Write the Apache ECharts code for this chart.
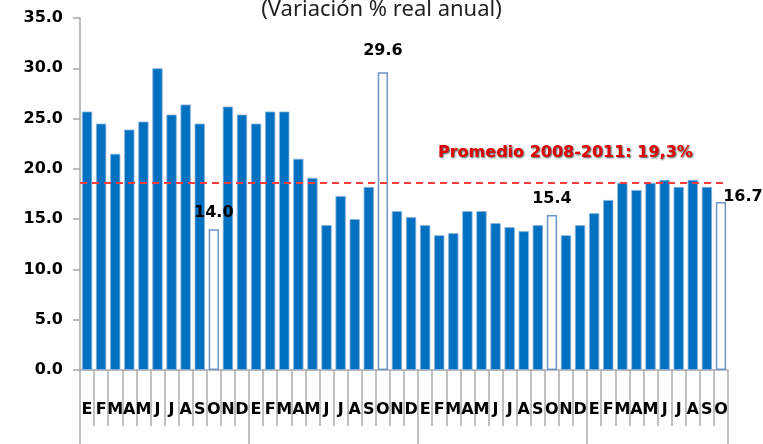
<!DOCTYPE html>
<html>
<head>
<meta charset="utf-8">
<script src="https://cdn.jsdelivr.net/npm/echarts@6/dist/echarts.min.js"></script>
<style>
  html,body{margin:0;padding:0;background:#fff;}
  #main{width:763px;height:444px;}
</style>
</head>
<body>
<div id="main"></div>
<script>
// meses (ene 2008 - oct 2011)
var months = ["E","F","M","A","M","J","J","A","S","O","N","D",
              "E","F","M","A","M","J","J","A","S","O","N","D",
              "E","F","M","A","M","J","J","A","S","O","N","D",
              "E","F","M","A","M","J","J","A","S","O"];
var values = [25.7,24.5,21.5,23.9,24.7,30.0,25.4,26.4,24.5,14.0,26.2,25.4,
              24.5,25.7,25.7,21.0,19.1,14.4,17.3,15.0,18.2,29.6,15.8,15.2,
              14.4,13.4,13.6,15.8,15.8,14.6,14.2,13.8,14.4,15.4,13.4,14.4,
              15.6,16.9,18.6,17.9,18.6,18.9,18.2,18.9,18.2,16.7];
// octubres resaltados
var highlight = [9, 21, 33, 45];
var yTicks = [0, 5, 10, 15, 20, 25, 30, 35];
var promedio = 18.6;
var promedioText = "Promedio 2008-2011: 19,3%";

var myChart = echarts.init(document.getElementById('main'));

var barData = values.map(function(v, i){
    if (highlight.indexOf(i) < 0) return v;
    var item = {
        value: v,
        itemStyle: {color: '#ffffff', borderColor: '#6f96c8', borderWidth: 1.5},
        label: {show: true, position: 'top', distance: 8}
    };
    if (i == 21) item.label.distance = 13;
    if (i == values.length - 1) {
        item.label.distance = 0;
        item.label.offset = [22, 3];
    }
    return item;
});

var option = {
    animation: false,
    title: {
        text: '(Variación % real anual)',
        left: 'center',
        top: -6,
        textStyle: {fontFamily: 'Noto Sans', fontSize: 22, fontWeight: 'normal', color: '#222'}
    },
    grid: {left: 80, right: 35, top: 18, bottom: 74},
    xAxis: [{
        type: 'category',
        position: 'bottom',
        data: months,
        axisLine: {show: true, lineStyle: {color: '#a6a6a6', width: 1.5}},
        axisTick: {show: true, interval: 0, length: 56, lineStyle: {color: '#acacac', width: 1.5}},
        axisLabel: {
            interval: 0, margin: 32,
            fontFamily: 'DejaVu Sans', fontWeight: 'bold', fontSize: 16, color: '#000'
        }
    }, {
        type: 'category',
        position: 'bottom',
        data: months,
        axisLine: {show: false},
        axisTick: {
            show: true,
            length: 74,
            interval: function(index){ return index % 12 == 0; },
            lineStyle: {color: '#acacac', width: 1.5}
        },
        axisLabel: {show: false}
    }],
    yAxis: {
        type: 'value',
        min: yTicks[0],
        max: yTicks[yTicks.length - 1],
        interval: 5,
        splitLine: {show: false},
        axisLine: {show: true, lineStyle: {color: '#a6a6a6', width: 1.5}},
        axisTick: {show: true, length: 7, lineStyle: {color: '#a6a6a6', width: 1.5}},
        axisLabel: {
            margin: 17,
            fontFamily: 'DejaVu Sans', fontWeight: 'bold', fontSize: 16, color: '#000',
            formatter: function(v){ return v.toFixed(1); }
        }
    },
    series: [{
        type: 'bar',
        data: barData,
        barCategoryGap: '27%',
        itemStyle: {color: '#0070c0', borderColor: '#8fb3dc', borderWidth: 0.8},
        label: {
            show: false,
            fontFamily: 'DejaVu Sans', fontWeight: 'bold', fontSize: 16, color: '#000',
            formatter: function(p){ return p.value.toFixed(1); }
        },
        markLine: {
            silent: true,
            symbol: 'none',
            label: {show: false},
            lineStyle: {color: '#ff3b3b', type: [7, 5], width: 2},
            data: [{yAxis: promedio}]
        }
    }],
    graphic: [{
        type: 'text',
        left: 438,
        top: 145,
        style: {
            text: promedioText,
            fill: '#e00000',
            font: 'bold 16px "DejaVu Sans"',
            textShadowColor: 'rgba(0,0,0,0.7)',
            textShadowBlur: 2,
            textShadowOffsetX: 1,
            textShadowOffsetY: 1
        }
    }]
};

myChart.setOption(option);
</script>
</body>
</html>
